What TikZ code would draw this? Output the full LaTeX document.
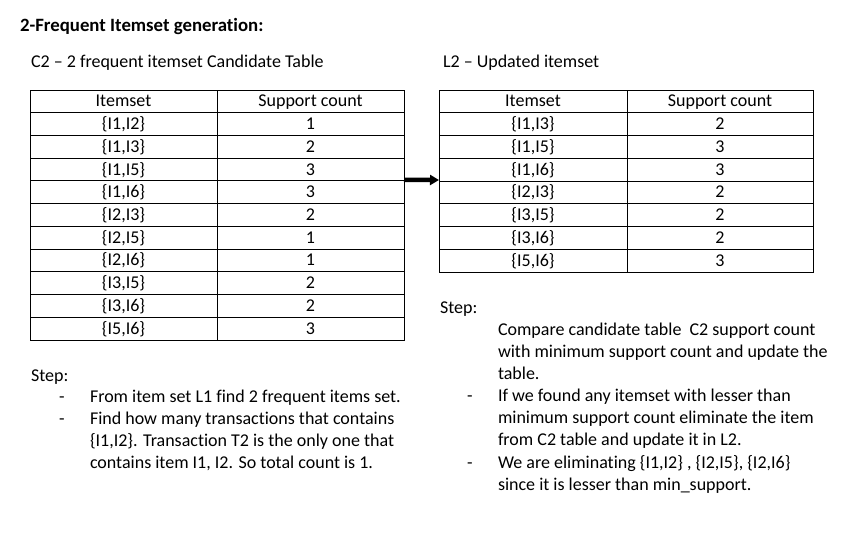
\documentclass[tikz,border=0pt]{standalone}
\usepackage{fontspec}
\setmainfont{Carlito}[Ligatures=NoCommon]
\usetikzlibrary{arrows.meta}
\begin{document}
\begin{tikzpicture}[x=1pt,y=-1pt,
  every node/.style={font=\fontsize{18}{22}\selectfont, inner sep=0pt, outer sep=0pt},
  txt/.style={anchor=base west},
  cell/.style={draw, line width=0.9pt, minimum height=22.75pt, text height=15pt, text depth=4pt, anchor=north west},
  lcell/.style={cell, minimum width=187pt, minimum height=22.727pt},
  rcella/.style={cell, minimum width=188pt},
  rcellb/.style={cell, minimum width=186pt},
  bigarrow/.style={line width=4.5pt, -{Triangle[length=9pt,width=10pt]}}]
\useasboundingbox (0,0) rectangle (863,545);
% titles
\node[txt, font=\fontsize{18.8}{22}\selectfont\bfseries] (title) at (20,32) {2-Frequent Itemset generation:};
\node[txt] (c2t) at (31,68) {C2 – 2 frequent itemset Candidate Table};
\node[txt] (l2t) at (443,68) {L2 – Updated itemset};
% left table
\node[lcell] (La0) at (30,90) {Itemset};
\node[lcell] (Lb0) at (217,90) {Support count};
\foreach \p/\q/\c [count=\i] in {1/2/1, 1/3/2, 1/5/3, 1/6/3, 2/3/2, 2/5/1, 2/6/1, 3/5/2, 3/6/2, 5/6/3}{
  \node[lcell] (La\i) at (30,{90+\i*22.727}) {\{I\p,I\q\}};
  \node[lcell] (Lb\i) at (217,{90+\i*22.727}) {\c};
}
% right table
\node[rcella] (Ra0) at (439,90) {Itemset};
\node[rcellb] (Rb0) at (627,90) {Support count};
\foreach \p/\q/\c [count=\i] in {1/3/2, 1/5/3, 1/6/3, 2/3/2, 3/5/2, 3/6/2, 5/6/3}{
  \node[rcella] (Ra\i) at (439,{90+\i*22.75}) {\{I\p,I\q\}};
  \node[rcellb] (Rb\i) at (627,{90+\i*22.75}) {\c};
}
% arrow
\draw[bigarrow] ([yshift=1pt]Lb3.south east) -- ([yshift=1pt]Ra3.south west);
% left steps
\node[txt] (ls) at (31,382) {Step:};
\node[txt] (ld1) at (59,403) {-};
\node[txt] (l1) at (90,403) {From item set L1 find 2 frequent items set.};
\node[txt] (ld2) at (59,425) {-};
\node[txt] (l2) at (90,425) {Find how many transactions that contains};
\node[txt] (l3) at (90,447) {\{I1,I2\}. Transaction T2 is the only one that};
\node[txt] (l4) at (90,469) {contains item I1, I2. So total count is 1.};
% right steps
\node[txt] (rs) at (440,314) {Step:};
\node[txt] (r1) at (498,336) {Compare candidate table \ C2 support count};
\node[txt] (r2) at (498,358) {with minimum support count and update the};
\node[txt] (r3) at (498,380) {table.};
\node[txt] (rd1) at (467,402) {-};
\node[txt] (r4) at (498,402) {If we found any itemset with lesser than};
\node[txt] (r5) at (498,424) {minimum support count eliminate the item};
\node[txt] (r6) at (498,446) {from C2 table and update it in L2.};
\node[txt] (rd2) at (467,468) {-};
\node[txt] (r7) at (498,468) {We are eliminating \{I1,I2\} , \{I2,I5\}, \{I2,I6\}};
\node[txt] (r8) at (498,490) {since it is lesser than min\_support.};
\end{tikzpicture}
\end{document}
